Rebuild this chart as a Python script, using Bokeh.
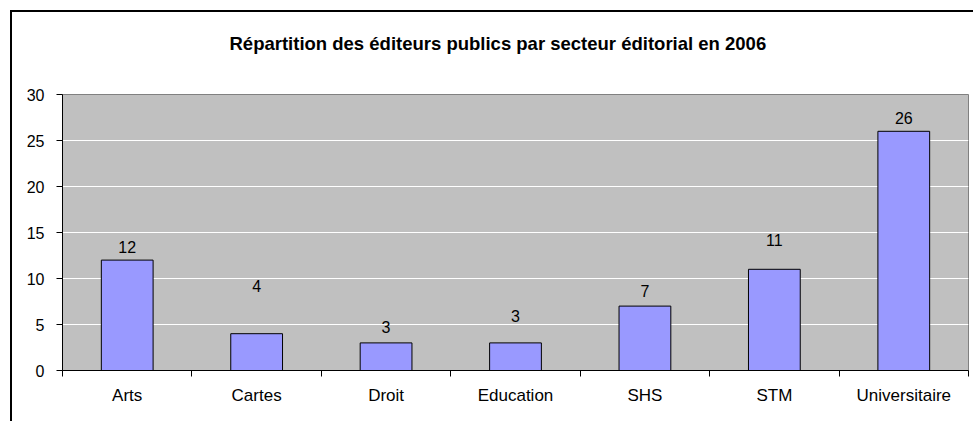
from bokeh.plotting import figure
from bokeh.models import (ColumnDataSource, LabelSet, LinearAxis, CategoricalAxis,
                          Range1d, FixedTicker, InlineStyleSheet)
from bokeh.core.properties import value
from bokeh.embed import file_html
from bokeh.resources import INLINE

# ---- data ----
title_text = "Répartition des éditeurs publics par secteur éditorial en 2006"
categories = ["Arts", "Cartes", "Droit", "Education", "SHS", "STM", "Universitaire"]
values = [12, 4, 3, 3, 7, 11, 26]
y_ticks = [0, 5, 10, 15, 20, 25, 30]

# ---- style (label lift above bar top, in pixels) ----
label_lift = [7, 42, 10, 21, 9, 23, 7]

FONT = "Liberation Sans"

src = ColumnDataSource(dict(cat=categories, val=values,
                            txt=[str(v) for v in values], lift=label_lift))

p = figure(width=973, height=421, x_range=categories, y_range=Range1d(0, 30),
           output_backend="svg", toolbar_location=None, tools="",
           x_axis_location=None, y_axis_location=None,
           min_border_left=62, min_border_right=5, min_border_top=94, min_border_bottom=51)

p.background_fill_color = "#C0C0C0"
p.border_fill_color = "white"
p.outline_line_color = "#808080"
p.outline_line_width = 1
p.x_range.range_padding = 0

# title
p.title.text = title_text
p.title.text_font = FONT
p.title.text_font_size = "18.5px"
p.title.text_font_style = "bold"
p.title.text_color = "black"
p.title.align = "left"
p.title.offset = 167
p.title.standoff = 57

# invisible spacer between the title and the plot area
sax = LinearAxis(ticker=FixedTicker(ticks=list(range(len(categories) + 1))))
sax.axis_line_alpha = 0
sax.major_tick_line_alpha = 0
sax.major_tick_out = 12
sax.major_tick_in = 0
sax.minor_tick_line_alpha = 0
sax.major_label_text_font_size = "1px"
sax.major_label_text_alpha = 0
sax.major_label_standoff = 0
p.add_layout(sax, "above")

# y axis
yax = LinearAxis(ticker=FixedTicker(ticks=y_ticks))
yax.axis_line_color = "black"
yax.major_tick_line_color = "black"
yax.major_tick_out = 6
yax.major_tick_in = 0
yax.minor_tick_line_color = None
yax.major_label_standoff = 12
yax.major_label_text_font = FONT
yax.major_label_text_font_size = "16px"
yax.major_label_text_color = "black"
p.add_layout(yax, "left")

# x axis: tick marks at category boundaries (synthetic positions 0..n)
tax = LinearAxis(ticker=FixedTicker(ticks=list(range(len(categories) + 1))))
tax.axis_line_color = "black"
tax.major_tick_line_color = "black"
tax.major_tick_out = 6
tax.major_tick_in = 0
tax.minor_tick_line_color = None
tax.major_label_text_font_size = "1px"
tax.major_label_text_alpha = 0
tax.major_label_standoff = 0
p.add_layout(tax, "below")

# x axis: category labels
cax = CategoricalAxis()
cax.axis_line_color = None
cax.major_tick_line_color = None
cax.major_label_standoff = 3
cax.major_label_text_font = FONT
cax.major_label_text_font_size = "17px"
cax.major_label_text_color = "black"
p.add_layout(cax, "below")

# grid
p.xgrid.visible = False
p.ygrid.ticker = FixedTicker(ticks=y_ticks)
p.ygrid.grid_line_color = "white"
p.ygrid.grid_line_width = 1

# bars
p.vbar(x="cat", top="val", width=0.4, bottom=0, source=src,
       fill_color="#9999FF", line_color="black", line_width=1)

labels = LabelSet(x="cat", y="val", text="txt", y_offset="lift", source=src,
                  text_align="center", text_baseline="alphabetic",
                  text_font=value(FONT), text_font_size=value("16px"),
                  text_color="black")
p.add_layout(labels)

# outer chart border (left and top visible)
p.stylesheets = [InlineStyleSheet(css="""
:host { position: relative; }
:host::after {
  content: ""; position: absolute; pointer-events: none;
  left: 10px; top: 10px; right: 0px; bottom: 0px;
  border-left: 2px solid black; border-top: 2px solid black;
}
""")]

open("out.html", "w").write(file_html(p, INLINE))
